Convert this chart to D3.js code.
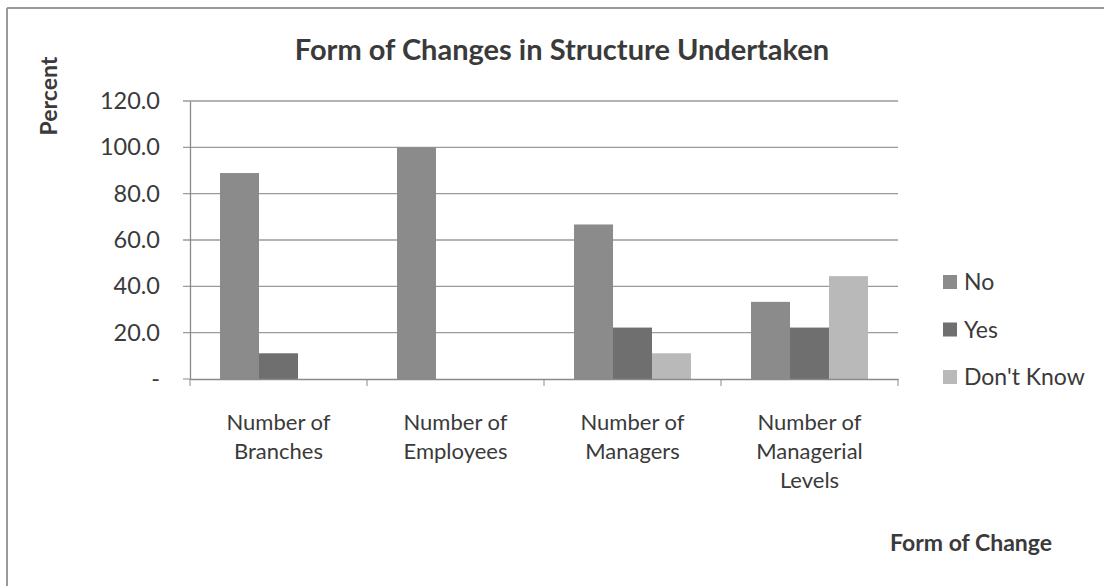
<!DOCTYPE html>
<html>
<head>
<meta charset="utf-8">
<script src="https://cdn.jsdelivr.net/npm/d3@7"></script>
<style>
  body { margin: 0; background: #fff; }
  text { font-family: Lato, "Open Sans", sans-serif; }
</style>
</head>
<body>
<svg id="svg"></svg>
<script>
// data
var categories = [["Number of", "Branches"], ["Number of", "Employees"], ["Number of", "Managers"], ["Number of", "Managerial", "Levels"]];
var seriesNames = ["No", "Yes", "Don't Know"];
var noVals = [88.9, 100.0, 66.7, 33.3];
var yesVals = [11.1, 0, 22.2, 22.2];
var dkVals = [0, 0, 11.1, 44.4];
var yTicks = [0, 20, 40, 60, 80, 100, 120];
var colors = ["#8b8b8b", "#6f6f6f", "#b9b9b9"];

var width = 1109, height = 586;
var margin = {left: 190, right: 211, top: 101, bottom: 207};
var w = width - margin.left - margin.right, h = height - margin.top - margin.bottom;
var txt = "#3a3a3a";

var svg = d3.select("#svg").attr("width", width).attr("height", height);

// frame
svg.append("line").attr("x1", 7).attr("x2", 1104).attr("y1", 8).attr("y2", 8)
   .attr("stroke", "#999").attr("stroke-width", 2);
svg.append("line").attr("x1", 7).attr("x2", 7).attr("y1", 8).attr("y2", 586)
   .attr("stroke", "#999").attr("stroke-width", 2);

var g = svg.append("g").attr("transform", `translate(${margin.left},${margin.top})`);

var x0 = d3.scaleBand().domain(d3.range(categories.length)).range([0, w]);
var x1 = d3.scaleBand().domain(d3.range(seriesNames.length)).range([0, x0.bandwidth()]).paddingOuter(0.77).paddingInner(0);
var y = d3.scaleLinear().domain([0, 120]).range([h, 0]);

// gridlines
g.selectAll(".grid").data(yTicks.slice(1)).enter().append("line")
  .attr("x1", -7).attr("x2", w).attr("y1", d => y(d)).attr("y2", d => y(d))
  .attr("stroke", "#9a9a9a").attr("stroke-width", 1.3);

var yAxis = d3.axisLeft(y).tickValues(yTicks).tickSize(0).tickPadding(30)
  .tickFormat(d => d === 0 ? "-" : d3.format(".1f")(d));
var yG = g.append("g").call(yAxis);
yG.select(".domain").attr("stroke", "#8a8a8a").attr("stroke-width", 1.3);
yG.selectAll("text").style("font-size", "23.5px").attr("fill", txt);

var rows = categories.map((c, i) => [noVals[i], yesVals[i], dkVals[i]]);

g.selectAll(".cat").data(rows).enter().append("g")
  .attr("transform", (d, i) => `translate(${x0(i)},0)`)
  .selectAll("rect").data(d => d).enter().append("rect")
  .attr("x", (d, j) => x1(j)).attr("width", x1.bandwidth())
  .attr("y", d => y(d)).attr("height", d => h - y(d))
  .attr("fill", (d, j) => colors[j]);

// x axis
var xAxis = d3.axisBottom(x0).tickSize(0).tickFormat("");
var xG = g.append("g").attr("transform", `translate(0,${h})`).call(xAxis);
xG.select(".domain").attr("stroke", "#8a8a8a").attr("stroke-width", 1.3);
xG.selectAll(".ctick").data(d3.range(categories.length + 1)).enter().append("line")
  .attr("class", "ctick")
  .attr("x1", i => i * x0.step()).attr("x2", i => i * x0.step())
  .attr("y1", 0).attr("y2", 7).attr("stroke", "#8a8a8a");
g.append("line").attr("x1", -7).attr("x2", 0).attr("y1", h).attr("y2", h).attr("stroke", "#8a8a8a");

var lab = g.selectAll(".clab").data(categories).enter().append("text")
  .attr("class", "clab")
  .attr("x", (d, i) => x0(i) + x0.bandwidth() / 2)
  .attr("y", h + 51)
  .attr("text-anchor", "middle").style("font-size", "22px").attr("fill", txt);
lab.selectAll("tspan").data(d => d).enter().append("tspan")
  .attr("x", function() { return this.parentNode.getAttribute("x"); })
  .attr("dy", (d, i) => i === 0 ? 0 : 29)
  .text(d => d);

// titles
svg.append("text").attr("x", 562).attr("y", 60).attr("text-anchor", "middle")
  .style("font-size", "29px").style("font-weight", 700).attr("fill", txt)
  .text("Form of Changes in Structure Undertaken");
svg.append("text").attr("transform", "translate(57,96) rotate(-90)").attr("text-anchor", "middle")
  .style("font-size", "23px").style("font-weight", 700).attr("fill", txt)
  .text("Percent");
svg.append("text").attr("x", 971).attr("y", 551).attr("text-anchor", "middle")
  .style("font-size", "23px").style("font-weight", 700).attr("fill", txt)
  .text("Form of Change");

// legend
var leg = svg.selectAll(".leg").data(seriesNames).enter().append("g")
  .attr("transform", (d, i) => `translate(943,${282 + i * 47.5})`);
leg.append("rect").attr("x", 0).attr("y", -7).attr("width", 14).attr("height", 14)
  .attr("fill", (d, i) => colors[i]);
leg.append("text").attr("x", 21).attr("y", 8).style("font-size", "23px").attr("fill", txt)
  .text(d => d);
</script>
</body>
</html>
